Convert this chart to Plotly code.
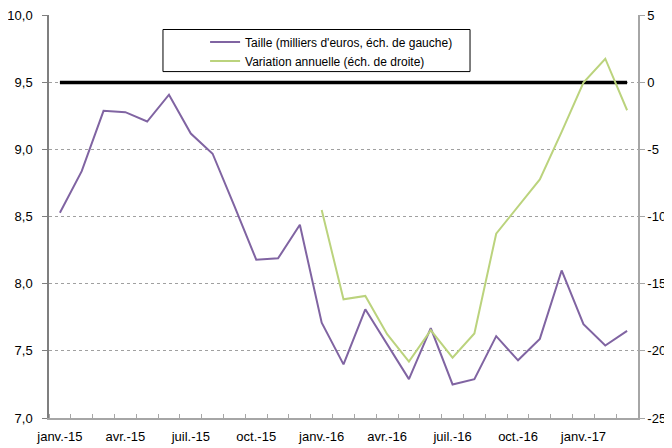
import plotly.graph_objects as go

months = ["janv.-15", "févr.-15", "mars-15", "avr.-15", "mai-15", "juin-15", "juil.-15", "août-15",
          "sept.-15", "oct.-15", "nov.-15", "déc.-15", "janv.-16", "févr.-16", "mars-16", "avr.-16",
          "mai-16", "juin-16", "juil.-16", "août-16", "sept.-16", "oct.-16", "nov.-16", "déc.-16",
          "janv.-17", "févr.-17", "mars-17"]

taille = [8.53, 8.84, 9.29, 9.28, 9.21, 9.41, 9.12, 8.97, 8.58, 8.18, 8.19, 8.44,
          7.71, 7.40, 7.81, 7.55, 7.29, 7.67, 7.25, 7.29, 7.61, 7.43, 7.59, 8.10,
          7.70, 7.54, 7.65]

variation = [None] * 12 + [-9.5, -16.15, -15.9, -18.75, -20.8, -18.45, -20.5, -18.7,
                           -11.26, -9.25, -7.22, -3.67, 0.0, 1.78, -2.06]

zero_line = [0] * len(months)

left_ticks = [7.0, 7.5, 8.0, 8.5, 9.0, 9.5, 10.0]
right_ticks = [-25, -20, -15, -10, -5, 0, 5]
right_ticktext = ["-25", "-20", "-15", "-10", "-5", "0", "5"]

x = list(range(len(months)))
label_idx = x[::3]

PURPLE = "#8064A2"
GREEN = "#BBD37D"
FONT = "Liberation Sans, Arial, sans-serif"

fig = go.Figure()
fig.add_trace(go.Scatter(x=x, y=zero_line, yaxis="y2", mode="lines",
                         line=dict(color="black", width=3.5), showlegend=False, hoverinfo="skip"))
fig.add_trace(go.Scatter(x=x, y=taille, mode="lines", name="Taille (milliers d'euros, éch. de gauche)",
                         line=dict(color=PURPLE, width=2)))
fig.add_trace(go.Scatter(x=x, y=variation, yaxis="y2", mode="lines",
                         name="Variation annuelle (éch. de droite)",
                         line=dict(color=GREEN, width=2)))

# the page body has an 8px margin, so the figure is sized/offset to compensate
fig.update_layout(
    width=664, height=440,
    margin=dict(l=41, r=34, t=7, b=30),
    paper_bgcolor="white", plot_bgcolor="white",
    separators=", ",
    font=dict(family=FONT, size=13, color="black"),
    xaxis=dict(range=[-0.5, len(months) - 0.5], tickmode="array",
               tickvals=label_idx, ticktext=[months[i] for i in label_idx],
               ticks="", showgrid=False, zeroline=False, automargin=False,
               ticklabelstandoff=6, ticklabeloverflow="allow",
               showline=True, linecolor="#a6a6a6", linewidth=1.5,
               minor=dict(ticks="inside", tick0=-0.5, dtick=1, ticklen=4,
                          tickcolor="#a6a6a6", showgrid=False),
               tickfont=dict(size=13)),
    yaxis=dict(range=[7, 10.004], tickmode="array", tickvals=left_ticks, tickformat=".1f",
               ticks="outside", ticklen=5, tickcolor="#7f7f7f", automargin=False,
               ticklabelstandoff=7, ticklabeloverflow="allow",
               showline=True, linecolor="#7f7f7f", linewidth=1.5,
               showgrid=True, gridcolor="#a0a0a0", gridwidth=1, griddash="3px,3px",
               zeroline=False, tickfont=dict(size=13)),
    yaxis2=dict(range=[-25, 5.04], overlaying="y", side="right", tickmode="array",
                tickvals=right_ticks, ticktext=right_ticktext, automargin=False,
                ticklabeloverflow="allow",
                ticks="outside", ticklen=5, tickcolor="#a6a6a6",
                showline=True, linecolor="#a6a6a6", linewidth=1.5,
                showgrid=False, zeroline=False, tickfont=dict(size=13)),
    legend=dict(x=0.265, y=0.969, xanchor="left", yanchor="top",
                bgcolor="rgba(0,0,0,0)", borderwidth=0,
                font=dict(family=FONT, size=12),
                tracegroupgap=0, itemwidth=30),
    shapes=[dict(type="rect", xref="paper", yref="paper",
                 x0=0.1935, x1=0.7148, y0=0.8596, y1=0.964,
                 line=dict(color="black", width=1), fillcolor="white", layer="below")],
    showlegend=True,
)

fig.write_html("out.html")
